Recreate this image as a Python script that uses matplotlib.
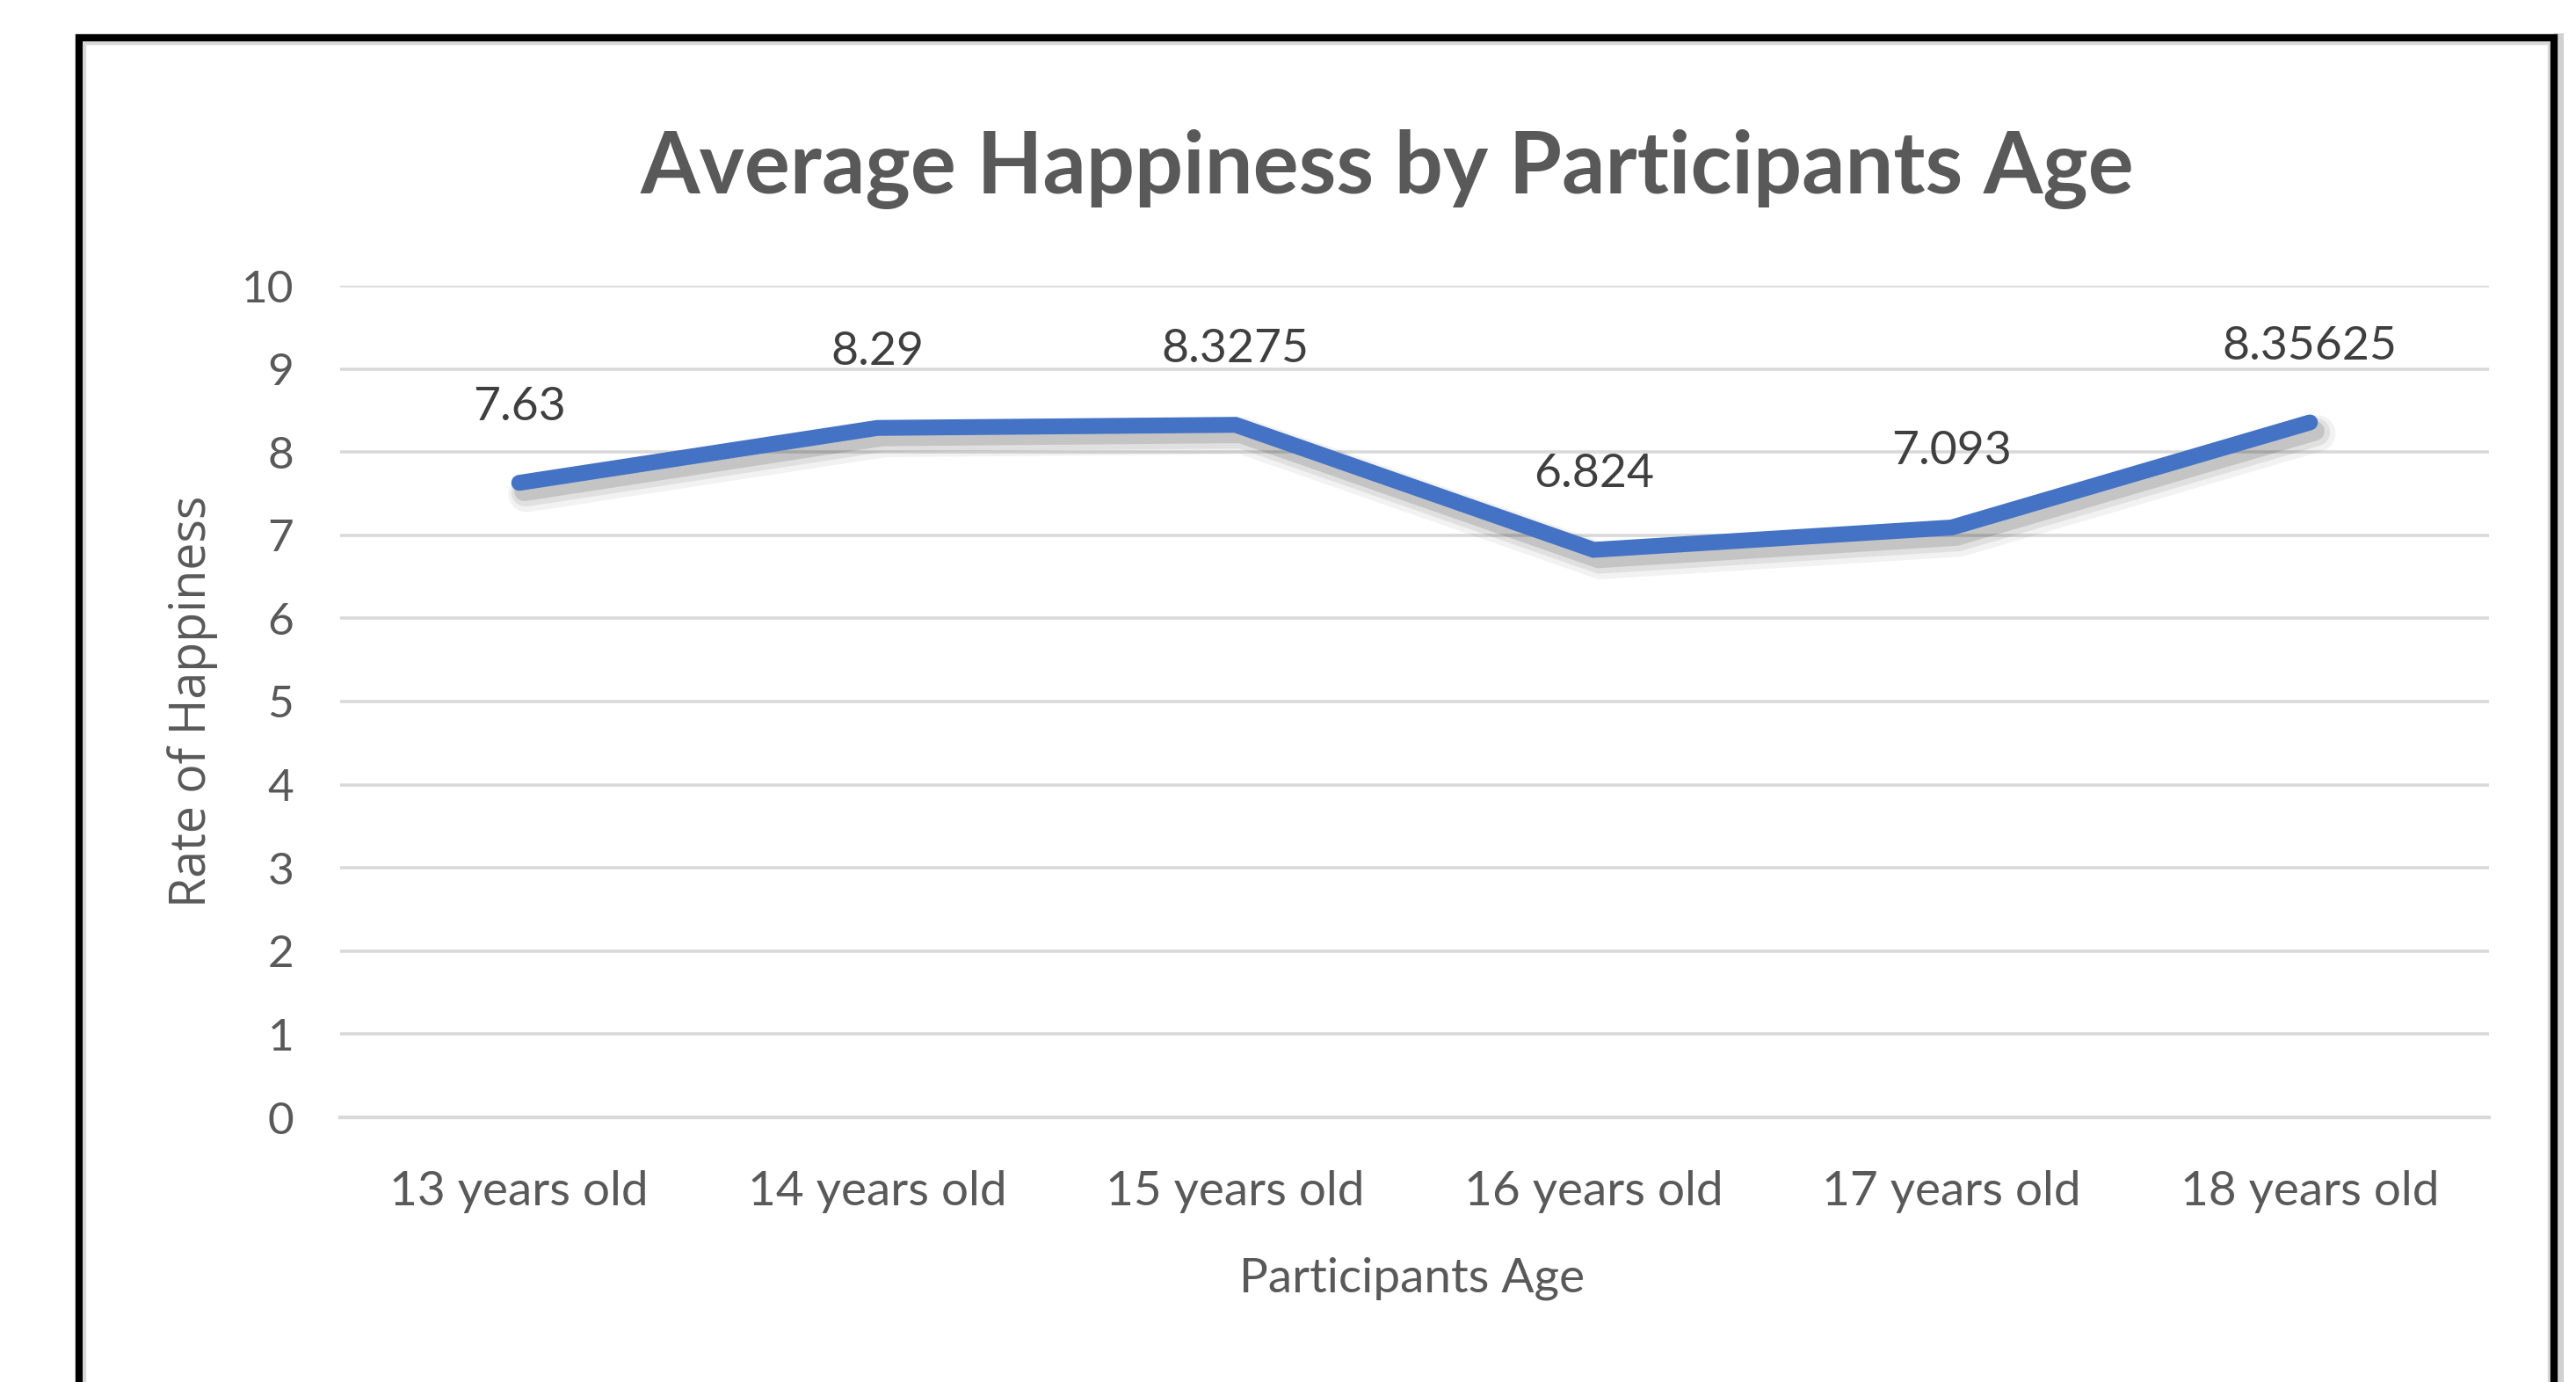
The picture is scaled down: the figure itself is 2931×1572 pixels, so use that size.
import matplotlib
matplotlib.use("Agg")
import matplotlib.pyplot as plt
import matplotlib.patheffects as pe
from matplotlib.lines import Line2D

ages = ["13 years old", "14 years old", "15 years old",
        "16 years old", "17 years old", "18 years old"]
happiness = [7.63, 8.29, 8.3275, 6.824, 7.093, 8.35625]
value_labels = ["7.63", "8.29", "8.3275", "6.824", "7.093", "8.35625"]
y_ticks = [0, 1, 2, 3, 4, 5, 6, 7, 8, 9, 10]

TEXT = "#595959"
GRID = "#D9D9D9"
BLUE = "#4472C4"

plt.rcParams["font.family"] = ["Lato", "DejaVu Sans"]

W, H = 2931, 1572
fig = plt.figure(figsize=(W / 100, H / 100), dpi=100)
fig.patch.set_facecolor("white")

ax = fig.add_axes([387 / W, 1 - 1271 / H, (2832 - 387) / W, (1271 - 325) / H])

x = list(range(len(ages)))

# soft shadow under the series line
shadow = [pe.SimpleLineShadow(offset=(dx, -dy), shadow_color="k", alpha=a, linewidth=lw)
          for dx, dy, a, lw in [(6, 9, 0.05, 30), (5, 8, 0.07, 23), (4, 7, 0.12, 16)]]
ax.plot(x, happiness, color=BLUE, linewidth=13, solid_capstyle="round",
        solid_joinstyle="miter", zorder=3,
        path_effects=shadow + [pe.Normal()])

for xi, yi, s in zip(x, happiness, value_labels):
    ax.annotate(s, (xi, yi), xytext=(0, 62), textcoords="offset points",
                ha="center", va="center", fontsize=38.5, color="#3F3F3F")

ax.set_xlim(-0.5, len(ages) - 0.5)
ax.set_ylim(0, 10)
ax.set_yticks(y_ticks)
ax.set_xticks(x)
ax.set_xticklabels(ages)
ax.grid(axis="y", color=GRID, linewidth=2.6)
ax.set_axisbelow(True)
for side in ["top", "right", "left"]:
    ax.spines[side].set_visible(False)
ax.spines["bottom"].set_color(GRID)
ax.spines["bottom"].set_linewidth(3)
ax.tick_params(axis="both", length=0, colors=TEXT)
ax.tick_params(axis="y", pad=38, labelsize=37)
ax.tick_params(axis="x", pad=43, labelsize=39.5)

fig.text(219 / W, 1 - 798 / H, "Rate of Happiness", rotation=90, ha="center",
         va="center", fontsize=40, color=TEXT, family=["Open Sans", "DejaVu Sans"])
fig.text(1607 / W, 1 - 1454 / H, "Participants Age", ha="center", va="center",
         fontsize=39.5, color=TEXT)
fig.text(1578 / W, 1 - 192 / H, "Average Happiness by Participants Age",
         ha="center", va="center", fontsize=70, fontweight="bold", color=TEXT)

# outer frame, open at the bottom edge
left, right, top, bottom = 90 / W, 2906 / W, 1 - 43 / H, -0.05
frame_x = [left, left, right, right]
frame_y = [bottom, top, top, bottom]
fig.add_artist(Line2D([f + 5 / W for f in frame_x[2:]], frame_y[2:],
                      transform=fig.transFigure, color="k", alpha=0.18, linewidth=8))
fig.add_artist(Line2D([left + 6 / W, left + 6 / W, right - 6 / W, right - 6 / W],
                      [bottom, top - 6 / H, top - 6 / H, bottom],
                      transform=fig.transFigure, color=GRID, linewidth=2.5))
fig.add_artist(Line2D(frame_x, frame_y, transform=fig.transFigure, color="black",
                      linewidth=6, solid_joinstyle="miter"))

fig.savefig("out.png", dpi=100, facecolor="white")
